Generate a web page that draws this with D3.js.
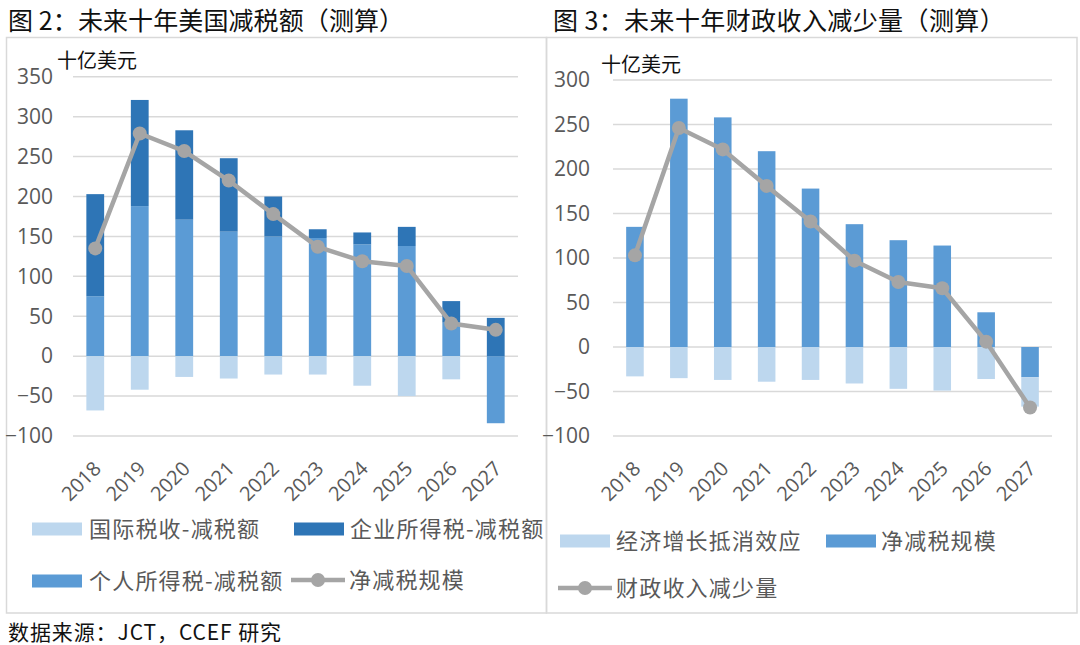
<!DOCTYPE html>
<html><head><meta charset="utf-8">
<script src="https://cdn.jsdelivr.net/npm/d3@7"></script>
<style>
body{margin:0;background:#fff;}
svg{display:block;}
</style></head>
<body>
<svg id="c" width="1080" height="645"></svg>
<script>
// ---------- data ----------
const years = ["2018","2019","2020","2021","2022","2023","2024","2025","2026","2027"];
// Figure 2 (left)
const intlTax     = [-68, -42, -26, -28, -23, -23, -37, -50, -29, 0];
const corpTax     = [128, 133, 112, 92, 50, 11, 15, 24, 27, 48];
const personalTax = [75, 188, 171, 156, 150, 148, 140, 138, 42, -84];
const netCutLeft  = [135, 279, 257, 220, 178, 137, 119, 113, 41, 33];
const leftTicks   = [350, 300, 250, 200, 150, 100, 50, 0, -50, -100];
// Figure 3 (right)
const growthOffset = [-33, -35, -37, -39, -37, -41, -47, -49, -36, -33];
const netCutRight  = [135, 279, 258, 220, 178, 138, 120, 114, 39, -34];
const revenueLoss  = [103, 246, 222, 181, 141, 97, 73, 66, 6, -68];
const rightTicks   = [300, 250, 200, 150, 100, 50, 0, -50, -100];

const titles = ["图 2：未来十年美国减税额（测算）", "图 3：未来十年财政收入减少量（测算）"];
const unitLabel = "十亿美元";
const sourceText = "数据来源：JCT，CCEF 研究";

const C_LIGHT = "#BDD7EE", C_MED = "#5B9BD5", C_DARK = "#2E75B6", C_LINE = "#A5A5A5";
const CJK = "'Noto Sans CJK SC','Noto Sans',sans-serif";
const NUM = "'Open Sans','Noto Sans',sans-serif";

const svg = d3.select("#c");

// panel borders
svg.append("rect").attr("x",6.5).attr("y",37.5).attr("width",540).attr("height",575.5)
  .attr("fill","none").attr("stroke","#d9d9d9").attr("stroke-width",1.5);
svg.append("rect").attr("x",546.5).attr("y",37.5).attr("width",530.5).attr("height",575.5)
  .attr("fill","none").attr("stroke","#d9d9d9").attr("stroke-width",1.5);

// titles
svg.append("text").attr("x",8).attr("y",30).text(titles[0])
  .attr("font-family",CJK).attr("font-size",25).attr("letter-spacing",0.1).attr("fill","#111");
svg.append("text").attr("x",553).attr("y",30).text(titles[1])
  .attr("font-family",CJK).attr("font-size",25).attr("letter-spacing",0.4).attr("fill","#111");
svg.append("text").attr("x",8).attr("y",640).text(sourceText)
  .attr("font-family",CJK).attr("font-size",21).attr("letter-spacing",0.9).attr("fill","#111");

function drawChart(cfg){
  const g = svg.append("g");
  const x = d3.scaleBand().domain(years).range([cfg.x0, cfg.x1]).paddingInner(0.6).paddingOuter(0.3);
  const y = d3.scaleLinear().domain(cfg.domain).range([cfg.yBottom, cfg.yTop]);

  // gridlines
  g.append("g").selectAll("line").data(cfg.ticks).join("line")
    .attr("x1",cfg.x0).attr("x2",cfg.x1)
    .attr("y1",d=>y(d)).attr("y2",d=>y(d))
    .attr("stroke","#d9d9d9").attr("stroke-width",1.5);

  // y axis labels
  const ya = g.append("g").attr("transform",`translate(${cfg.x0},0)`)
    .call(d3.axisLeft(y).tickValues(cfg.ticks).tickSize(0).tickPadding(cfg.tickPad).tickFormat(d3.format("d")));
  ya.select(".domain").remove();
  ya.selectAll("text").attr("font-family",NUM).attr("font-size",21).attr("fill","#595959");

  // unit label
  g.append("text").attr("x",cfg.unitX).attr("y",cfg.unitY).text(unitLabel)
    .attr("font-family",CJK).attr("font-size",20).attr("fill","#111");

  // stacked bars
  const rows = years.map((yr,i)=>{ const o={year:yr}; cfg.series.forEach(s=>o[s.key]=s.values[i]); return o; });
  const stack = d3.stack().keys(cfg.series.map(s=>s.key)).offset(d3.stackOffsetDiverging)(rows);
  const colorOf = Object.fromEntries(cfg.series.map(s=>[s.key,s.color]));
  g.append("g").selectAll("g").data(stack).join("g").attr("fill",d=>colorOf[d.key])
    .selectAll("rect").data(d=>d).join("rect")
    .attr("x",d=>x(d.data.year)).attr("width",x.bandwidth())
    .attr("y",d=>y(Math.max(d[0],d[1]))).attr("height",d=>Math.abs(y(d[0])-y(d[1])));

  // line
  const cx = yr => x(yr)+x.bandwidth()/2;
  g.append("path").datum(cfg.line)
    .attr("d", d3.line().x((d,i)=>cx(years[i])).y(d=>y(d)))
    .attr("fill","none").attr("stroke",C_LINE).attr("stroke-width",4.5).attr("stroke-linejoin","round");
  g.append("g").selectAll("circle").data(cfg.line).join("circle")
    .attr("cx",(d,i)=>cx(years[i])).attr("cy",d=>y(d)).attr("r",7).attr("fill",C_LINE);

  // x axis labels
  const xa = g.append("g").attr("transform",`translate(0,${cfg.labelY})`)
    .call(d3.axisBottom(x).tickSize(0).tickPadding(0));
  xa.select(".domain").remove();
  xa.selectAll("text").attr("font-family",NUM).attr("font-size",20).attr("fill","#595959")
    .attr("text-anchor","end").attr("dy","0").attr("y",0)
    .attr("transform","translate(7,0) rotate(-45)");

  // legend
  cfg.legend.forEach(l=>{
    if(l.type==="rect"){
      g.append("rect").attr("x",l.x).attr("y",l.y-6.5).attr("width",50).attr("height",13).attr("fill",l.color);
    } else {
      g.append("line").attr("x1",l.x).attr("x2",l.x+54).attr("y1",l.y).attr("y2",l.y)
        .attr("stroke",C_LINE).attr("stroke-width",4.5);
      g.append("circle").attr("cx",l.x+27).attr("cy",l.y).attr("r",7).attr("fill",C_LINE);
    }
    g.append("text").attr("x",l.tx).attr("y",l.y).attr("dy","0.36em").text(l.label)
      .attr("font-family",CJK).attr("font-size",22).attr("letter-spacing",1.2).attr("fill","#595959");
  });
}

drawChart({
  x0:73, x1:518, yTop:76.8, yBottom:436, domain:[-100,350], ticks:leftTicks, tickPad:20,
  unitX:57, unitY:68, labelY:470,
  series:[
    {key:"personal", values:personalTax, color:C_MED},
    {key:"corp", values:corpTax, color:C_DARK},
    {key:"intl", values:intlTax, color:C_LIGHT}
  ],
  line: netCutLeft,
  legend:[
    {type:"rect", x:32, y:529, color:C_LIGHT, tx:89, label:"国际税收-减税额"},
    {type:"rect", x:294, y:529, color:C_DARK, tx:350, label:"企业所得税-减税额"},
    {type:"rect", x:32, y:581, color:C_MED, tx:89, label:"个人所得税-减税额"},
    {type:"line", x:291, y:580, tx:349, label:"净减税规模"}
  ]
});

drawChart({
  x0:613, x1:1052, yTop:80, yBottom:436, domain:[-100,300], ticks:rightTicks, tickPad:23,
  unitX:601, unitY:72, labelY:470,
  series:[
    {key:"net", values:netCutRight, color:C_MED},
    {key:"offset", values:growthOffset, color:C_LIGHT}
  ],
  line: revenueLoss,
  legend:[
    {type:"rect", x:560, y:541, color:C_LIGHT, tx:616, label:"经济增长抵消效应"},
    {type:"rect", x:826, y:541, color:C_MED, tx:881, label:"净减税规模"},
    {type:"line", x:558, y:588, tx:616, label:"财政收入减少量"}
  ]
});
</script>
</body></html>
